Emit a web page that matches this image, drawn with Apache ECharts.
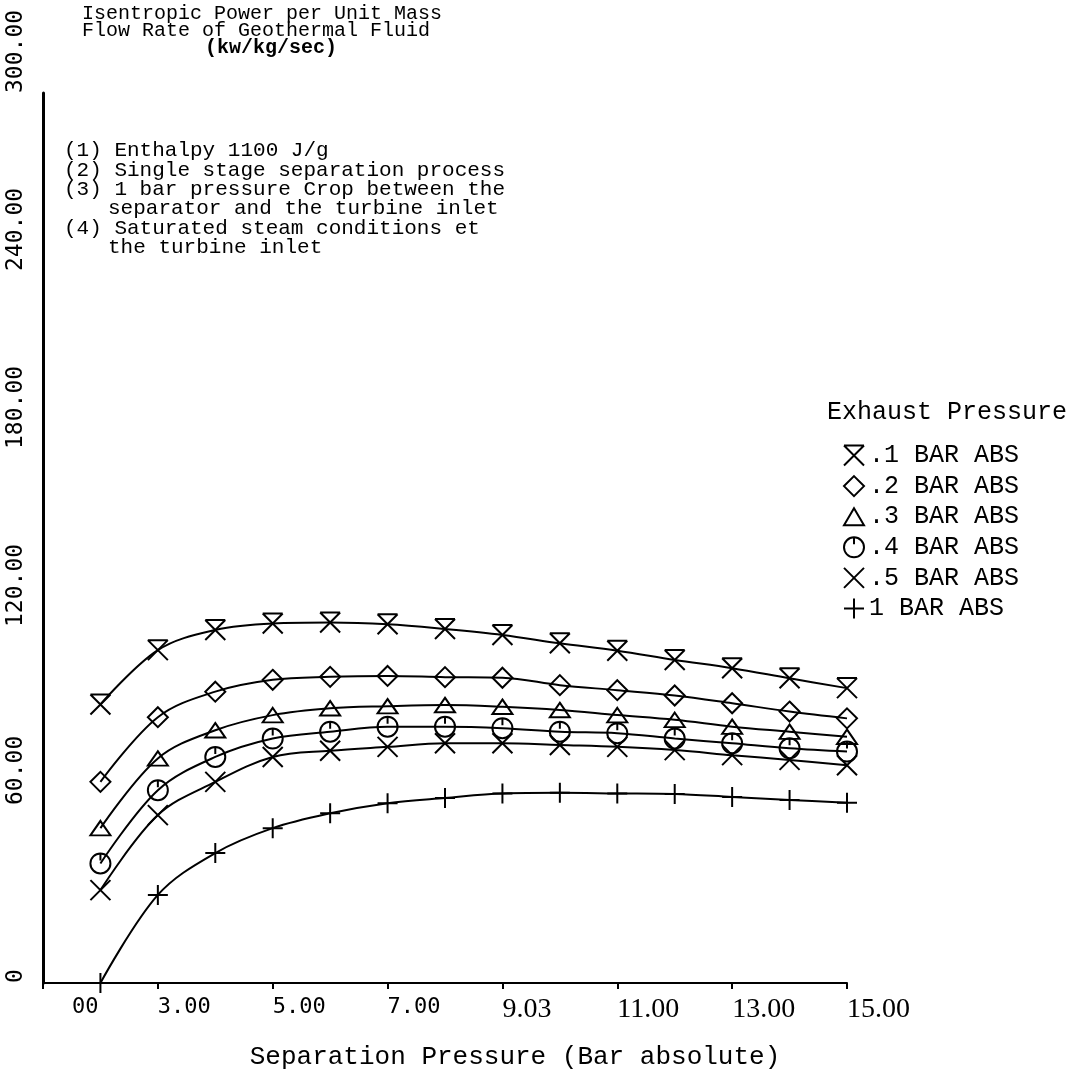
<!DOCTYPE html>
<html>
<head>
<meta charset="utf-8">
<title>Isentropic Power per Unit Mass Flow Rate of Geothermal Fluid</title>
<script src="https://cdn.jsdelivr.net/npm/echarts@6/dist/echarts.min.js"></script>
<style>
  html, body { margin: 0; padding: 0; background: #fff; }
  #chart { width: 1071px; height: 1072px; }
</style>
</head>
<body>
<div id="chart"></div>
<script>
// separation pressure (bar abs) – one marker per bar
const sepPressure = [2, 3, 4, 5, 6, 7, 8, 9, 10, 11, 12, 13, 14, 15]

// isentropic power (kw/kg/sec), one array per exhaust pressure
const exh01 = [93.9, 112.2, 119.0, 121.2, 121.5, 120.9, 119.3, 117.3, 114.5, 112.0, 108.9, 106.1, 102.7, 99.4]
const exh02 = [67.8, 89.6, 98.2, 102.2, 103.2, 103.5, 103.1, 102.9, 100.4, 98.7, 96.9, 94.3, 91.5, 89.2]
const exh03 = [52.2, 75.7, 85.2, 90.3, 92.6, 93.3, 93.7, 93.1, 92.0, 90.3, 88.7, 86.4, 84.7, 83.0]
const exh04 = [40.3, 65.0, 76.2, 82.4, 84.7, 86.4, 86.4, 85.9, 84.7, 84.2, 82.4, 80.8, 79.1, 78.0]
const exh05 = [31.3, 56.6, 67.8, 76.2, 78.3, 79.6, 80.8, 80.8, 80.2, 79.6, 78.5, 76.8, 75.2, 73.4]
const exh10 = [0, 29.7, 43.8, 52.2, 57.2, 60.6, 62.4, 63.9, 64.1, 63.9, 63.7, 62.7, 61.7, 60.8]

const seriesNames = ['.1 BAR ABS', '.2 BAR ABS', '.3 BAR ABS', '.4 BAR ABS', '.5 BAR ABS', '1 BAR ABS']

// tick labels as printed on the plot
const xTickLabels = ['00', '3.00', '5.00', '7.00', '9.03', '11.00', '13.00', '15.00']
const yTickLabels = ['0', '60.00', '120.00', '180.00', '240.00', '300.00']

// plotter glyphs
const symbols = [
  'path://M0,0 L20,0 M0,0 L20,20 M20,0 L0,20',
  'path://M10,0 L20,10 L10,20 L0,10 Z',
  'path://M10,0 L20,17 L0,17 Z',
  'path://M10,0 A10,10 0 1,1 9.99,0 Z M10,0 L10,7',
  'path://M0,0 L20,20 M20,0 L0,20',
  'path://M10,0 L10,20 M0,10 L20,10'
]

const allValues = [exh01, exh02, exh03, exh04, exh05, exh10]

const series = allValues.map((vals, i) => ({
  name: seriesNames[i],
  type: 'line',
  data: sepPressure.map((p, j) => [p, vals[j]]),
  smooth: 0.35,
  symbol: symbols[i],
  symbolSize: i === 2 ? [20, 17] : 20,
  symbolKeepAspect: true,
  clip: false,
  color: '#000',
  lineStyle: { color: '#000', width: 2 },
  itemStyle: { color: 'rgba(0,0,0,0)', borderColor: '#000', borderWidth: 2 },
  emphasis: { disabled: true }
}))

const chart = echarts.init(document.getElementById('chart'))

chart.setOption({
  animation: false,
  backgroundColor: '#fff',
  title: [
    {
      text: 'Isentropic Power per Unit Mass\nFlow Rate of Geothermal Fluid',
      left: 82,
      top: 5,
      padding: 0,
      textStyle: { fontFamily: 'Liberation Mono', fontSize: 20, fontWeight: 'normal', lineHeight: 17, color: '#000' }
    },
    {
      text: '(kw/kg/sec)',
      left: 205,
      top: 39,
      padding: 0,
      textStyle: { fontFamily: 'Liberation Mono', fontSize: 20, fontWeight: 'bold', lineHeight: 17, color: '#000' }
    },
    {
      text: '(1) Enthalpy 1100 J/g\n(2) Single stage separation process\n(3) 1 bar pressure Crop between the\n{i|separator and the turbine inlet}\n(4) Saturated steam conditions et\n{i|the turbine inlet}',
      left: 64,
      top: 141,
      padding: 0,
      textStyle: {
        fontFamily: 'Liberation Mono', fontSize: 21, fontWeight: 'normal', lineHeight: 19.4, color: '#000',
        rich: {
          i: { fontFamily: 'Liberation Mono', fontSize: 21, lineHeight: 19.4, color: '#000', padding: [0, 0, 0, 44] }
        }
      }
    },
    {
      text: 'Exhaust Pressure',
      left: 827,
      top: 400,
      padding: 0,
      textStyle: { fontFamily: 'Liberation Mono', fontSize: 25, fontWeight: 'normal', lineHeight: 25, color: '#000' }
    }
  ],
  legend: {
    orient: 'vertical',
    left: 843,
    top: 443,
    padding: 0,
    itemWidth: 20,
    itemHeight: 20,
    itemGap: 5.6,
    selectedMode: false,
    data: seriesNames.map((n, i) => ({ name: n, icon: symbols[i] })),
    itemStyle: { color: 'rgba(0,0,0,0)', borderColor: '#000', borderWidth: 2 },
    textStyle: { fontFamily: 'Liberation Mono', fontSize: 25, lineHeight: 25, color: '#000' }
  },
  grid: {
    left: 43,
    right: 224,
    top: 93,
    bottom: 89,
    containLabel: false,
    outerBoundsMode: 'none'
  },
  xAxis: {
    type: 'value',
    min: 1,
    max: 15,
    interval: 2,
    name: 'Separation Pressure (Bar absolute)',
    nameLocation: 'middle',
    nameGap: 61,
    nameTextStyle: { fontFamily: 'Liberation Mono', fontSize: 26, color: '#000', padding: [0, 0, 0, 140] },
    axisLine: { show: true, onZero: false, lineStyle: { color: '#000', width: 2 } },
    axisTick: { show: true, length: 6, lineStyle: { color: '#000', width: 2 } },
    splitLine: { show: false },
    axisLabel: {
      margin: 13,
      align: 'left',
      color: '#000',
      formatter: v => {
        const idx = Math.round((v - 1) / 2)
        const txt = xTickLabels[idx]
        if (idx === 0) return '{first|' + txt + '}'
        return idx < 4 ? '{mono|' + txt + '}' : '{serif|' + txt + '}'
      },
      rich: {
        first: { fontFamily: 'DejaVu Sans Mono', fontSize: 22, color: '#000', padding: [0, 0, 0, 29] },
        mono: { fontFamily: 'DejaVu Sans Mono', fontSize: 22, color: '#000' },
        serif: { fontFamily: 'Liberation Serif', fontSize: 28, color: '#000' }
      }
    }
  },
  yAxis: {
    type: 'value',
    min: 0,
    max: 300,
    interval: 60,
    axisLine: { show: true, lineStyle: { color: '#000', width: 3 } },
    axisTick: { show: false },
    splitLine: { show: false },
    axisLabel: {
      rotate: 90,
      align: 'left',
      margin: 15,
      color: '#000',
      fontFamily: 'DejaVu Sans Mono',
      fontSize: 23,
      formatter: v => yTickLabels[Math.round(v / 60)]
    }
  },
  series: series
})
</script>
</body>
</html>
